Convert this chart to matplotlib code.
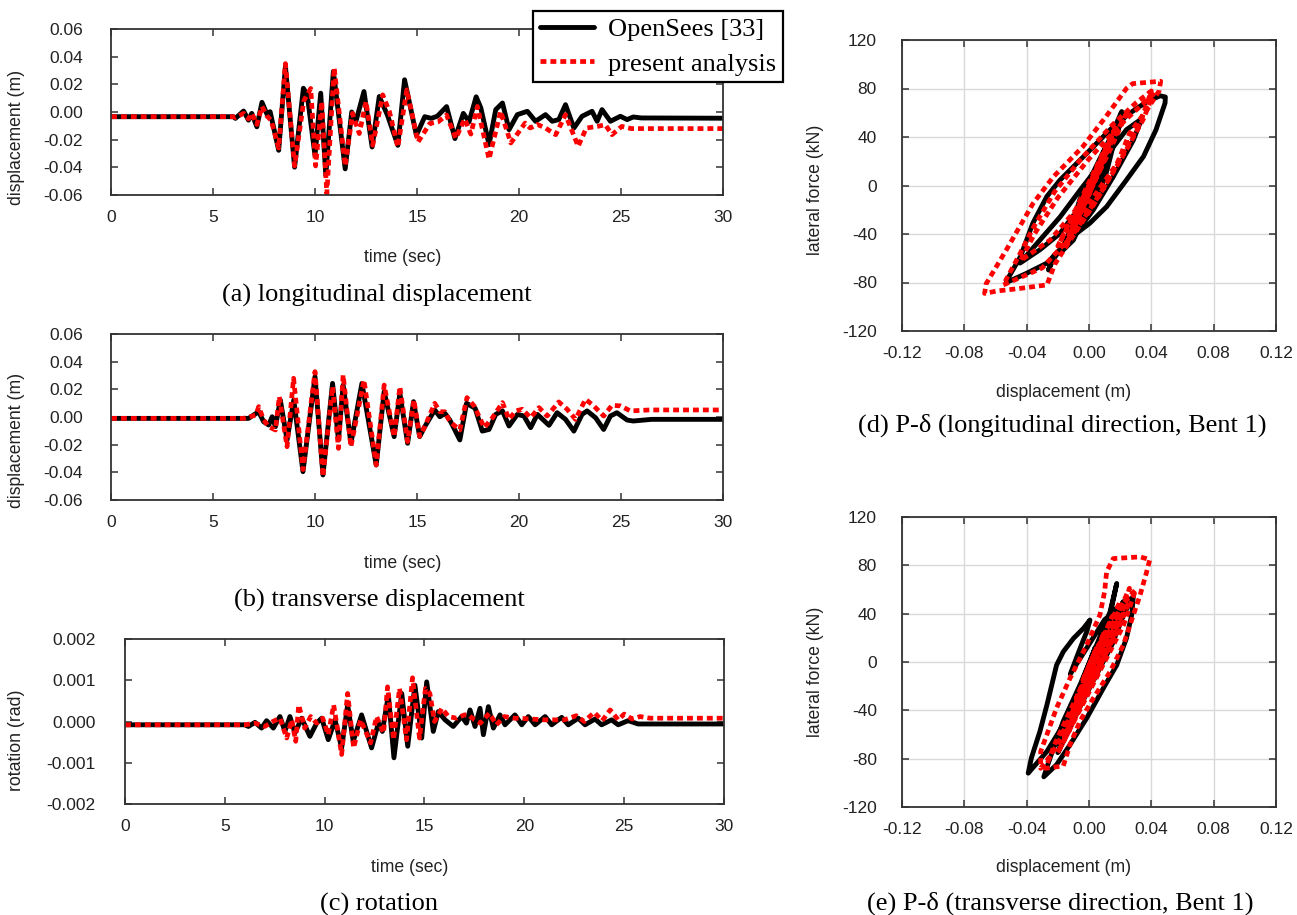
import numpy as np
import matplotlib
matplotlib.use("Agg")
import matplotlib.pyplot as plt
from matplotlib.lines import Line2D

# ---------------- data ----------------
# (a) longitudinal displacement: (time s, displacement m)
A_OPENSEES = [(0, -0.0034), (6.0, -0.0034), (6.1, -0.0046), (6.5, 0.0007), (6.74, -0.0059), (6.9, -0.0010),
              (7.15, -0.0107), (7.4, 0.0070), (7.65, -0.0017), (7.8, 0.0002), (8.22, -0.0277), (8.55, 0.0330),
              (9.0, -0.0399), (9.43, 0.0172), (9.62, 0.0124), (10.0, -0.0314), (10.28, 0.0136), (10.53, -0.0459),
              (10.9, 0.0294), (11.48, -0.0411), (11.8, 0.0), (12.0, -0.0071), (12.4, 0.0148), (12.8, -0.0253),
              (13.15, 0.0112), (13.55, -0.0022), (14.06, -0.0241), (14.39, 0.0233), (14.97, -0.0168),
              (15.38, -0.0034), (15.7, -0.0046), (16.0, -0.0030), (16.45, 0.0039), (16.86, -0.0192),
              (17.27, -0.0010), (17.55, -0.0071), (17.9, 0.0110), (18.13, 0.0029), (18.53, -0.0236),
              (18.86, 0.0017), (19.19, 0.0065), (19.51, -0.0128), (19.92, -0.0019), (20.41, 0.0005),
              (20.81, -0.0067), (21.3, -0.0019), (21.63, -0.0067), (21.95, -0.0055), (22.28, 0.0053),
              (22.69, -0.0116), (23.09, -0.0031), (23.58, 0.0005), (23.83, -0.0067), (24.07, 0.0017),
              (24.48, -0.0067), (24.97, -0.0031), (25.3, -0.0055), (25.6, -0.0036), (26.0, -0.0043), (30.0, -0.0045)]
A_PRESENT = [(0, -0.0034), (6.0, -0.0034), (6.1, -0.004), (6.5, -0.001), (6.74, -0.005), (6.9, -0.001),
             (7.15, -0.009), (7.4, 0.004), (7.65, -0.003), (7.85, -0.006), (8.22, -0.026), (8.55, 0.035),
             (9.0, -0.039), (9.45, 0.008), (9.79, 0.017), (10.03, -0.039), (10.33, 0.0075), (10.58, -0.059),
             (10.94, 0.032), (11.48, -0.039), (11.84, -0.001), (12.17, -0.0156), (12.5, 0.0075), (12.83, -0.024),
             (13.32, 0.0124), (13.65, 0.0002), (14.06, -0.0253), (14.5, 0.016), (15.05, -0.0217), (15.63, -0.0083),
             (16.04, -0.0071), (16.45, -0.0022), (16.9, -0.019), (17.34, -0.005), (17.64, -0.016), (17.96, 0.004),
             (18.53, -0.034), (19.1, 0.0005), (19.6, -0.0224), (20.3, -0.008), (20.55, -0.0116), (20.9, -0.009),
             (21.3, -0.0116), (21.8, -0.0164), (22.28, -0.0019), (22.9, -0.0248), (23.3, -0.0116), (23.85, -0.0104),
             (24.23, -0.0092), (24.56, -0.0164), (25.04, -0.0104), (25.5, -0.012), (30, -0.012)]

# (b) transverse displacement
B_OPENSEES = [(0, -0.001), (6.74, -0.001), (7.24, 0.0038), (7.48, -0.0034), (7.73, -0.0058), (7.9, 0.0002),
              (8.06, -0.007), (8.3, 0.0123), (8.63, -0.0166), (8.96, 0.0123), (9.41, -0.0395), (10.0, 0.0292),
              (10.39, -0.0419), (10.86, 0.0243), (11.15, -0.0166), (11.38, 0.0231), (11.76, -0.019), (12.3, 0.0243),
              (13.0, -0.0347), (13.39, 0.0183), (13.88, -0.0142), (14.16, 0.0171), (14.54, -0.019), (14.83, 0.0111),
              (15.13, -0.0142), (15.38, -0.007), (15.87, 0.0051), (16.12, 0.0002), (16.37, 0.0026), (16.61, -0.0022),
              (17.1, -0.0166), (17.43, 0.0099), (17.85, 0.0063), (18.2, -0.0102), (18.53, -0.009), (18.86, 0.0019),
              (19.19, 0.0044), (19.51, -0.0065), (19.92, 0.0019), (20.24, 0.0007), (20.57, -0.0077), (20.9, 0.0019),
              (21.47, -0.006), (21.87, 0.0031), (22.28, -0.0017), (22.69, -0.0102), (23.09, 0.0019), (23.34, 0.0044),
              (23.75, -0.0005), (24.15, -0.009), (24.48, 0.0007), (24.8, 0.0031), (25.3, -0.0022), (25.6, -0.0029),
              (26.5, -0.0017), (30, -0.0017)]
B_PRESENT = [(0, -0.001), (6.5, -0.001), (7.1, 0.0014), (7.24, 0.0075), (7.48, -0.002), (7.73, -0.007),
             (8.06, -0.0094), (8.25, 0.0147), (8.63, -0.0215), (8.95, 0.028), (9.41, -0.038), (10.0, 0.0328),
             (10.39, -0.043), (10.86, 0.022), (11.15, -0.0227), (11.38, 0.0303), (11.76, -0.0215), (12.4, 0.0267),
             (13.0, -0.0347), (13.39, 0.0231), (13.88, -0.0142), (14.16, 0.0219), (14.54, -0.0178), (14.85, 0.0123),
             (15.13, -0.014), (15.38, -0.007), (15.87, 0.0099), (16.12, 0.0038), (16.37, 0.0038), (16.61, -0.0034),
             (17.1, -0.0094), (17.45, 0.014), (17.8, 0.008), (18.3, -0.0077), (18.7, -0.0005), (19.19, 0.0104),
             (19.51, -0.0017), (19.84, 0.0044), (20.16, 0.0056), (20.57, -0.0005), (20.98, 0.0068), (21.38, 0.0007),
             (21.95, 0.0109), (22.36, 0.0056), (22.77, -0.0017), (23.26, 0.0128), (23.67, 0.008), (24.15, 0.0007),
             (24.56, 0.0085), (24.97, 0.008), (25.46, 0.0044), (26.4, 0.0051), (30, 0.0051)]

# (c) rotation (rad)
C_OPENSEES = [(0, -0.00008), (6.0, -0.00008), (6.18, -0.00012), (6.51, -0.00002), (6.84, -0.00016), (7.09, 0.00002),
              (7.43, -0.00016), (7.76, 0.00012), (8.01, -0.00024), (8.26, 0.00012), (8.51, -0.00028), (8.85, 0.00008),
              (9.26, -0.00036), (9.6, -0.00004), (9.85, 0.00008), (10.18, -0.00044), (10.52, 0.00004),
              (10.85, -0.00064), (11.15, 0.0004), (11.43, -0.00048), (11.85, 0.00016), (12.35, -0.00064),
              (12.69, -0.00004), (12.89, -0.00024), (13.19, 0.00064), (13.47, -0.00088), (13.86, 0.00068),
              (14.16, -0.0006), (14.52, 0.00088), (14.86, -0.0004), (15.11, 0.00096), (15.44, -0.00024),
              (15.69, 0.00024), (16.03, 0.00004), (16.44, -0.00012), (16.86, 0.00012), (17.1, -0.00004),
              (17.28, 0.00028), (17.53, -0.00012), (17.78, 0.00032), (17.95, -0.00032), (18.2, 0.00036),
              (18.45, -0.00016), (18.78, 0.00016), (19.03, -0.00008), (19.53, 0.00016), (19.87, -0.00008),
              (20.2, 0.00012), (20.54, -0.00008), (21.04, 0.00012), (21.37, -0.00008), (21.87, 0.0001),
              (22.2, -0.00008), (22.7, 0.00008), (23.04, -0.00008), (23.54, 0.00006), (23.87, -0.00008),
              (24.37, 0.00004), (24.7, -0.00008), (25.2, 0.00002), (25.7, -0.00006), (30, -0.00006)]
C_PRESENT = [(0, -0.00008), (6.0, -0.00008), (6.5, -0.00004), (7.0, -0.00012), (7.4, 0.0), (7.76, 0.00008),
             (8.1, -0.0004), (8.35, 0.00004), (8.55, -0.00048), (8.7, 0.0004), (9.0, -0.00016), (9.3, 0.00012),
             (9.6, -0.00004), (9.9, 0.00008), (10.18, -0.00032), (10.45, 0.0004), (10.85, -0.0008), (11.15, 0.00068),
             (11.45, -0.00064), (11.8, 0.00004), (12.3, -0.00052), (12.6, 0.00012), (12.95, -0.00028),
             (13.15, 0.00084), (13.45, -0.00044), (13.75, 0.0008), (14.1, -0.00044), (14.4, 0.00106),
             (14.75, -0.0004), (15.05, 0.0008), (15.27, 0.00068), (15.5, 0.0), (15.87, 0.00032), (16.2, 0.00012),
             (16.6, 0.00008), (17.0, 0.00016), (17.2, 0.00016), (17.5, 0.00004), (17.8, -0.00004), (18.25, 0.0002),
             (18.6, -0.00008), (19.0, 0.00012), (19.5, 0.00008), (20.0, 0.00007), (21.0, 0.00004), (22.0, 0.00004),
             (22.6, 0.00014), (23.0, 0.0), (23.5, 0.00022), (23.9, 0.00002), (24.3, 0.00028), (24.7, 0.00004),
             (25.0, 0.00018), (25.4, 0.00006), (25.8, 0.00012), (26.3, 0.00008), (30, 0.00008)]

# (d) P-delta, longitudinal: (displacement m, lateral force kN)
D_OPENSEES = [(0.0, -2), (0.004, 10), (-0.004, -12), (0.007, 18), (-0.006, -20), (0.010, 28), (-0.009, -28),
              (0.014, 38), (-0.012, -35), (0.021, 61), (0.0178, 46), (0.0113, 18), (0.0028, -1), (-0.0058, -17.5),
              (-0.0186, -39.5), (-0.0315, -53), (-0.0443, -64), (-0.0315, -45), (-0.0186, -26), (-0.0058, -4),
              (0.0092, 21), (0.024, 46), (0.0338, 55), (0.0285, 37.5), (0.0156, 7.3), (0.0028, -20), (-0.010, -42),
              (-0.027, -64), (-0.040, -72.4), (-0.053, -80), (-0.052, -76.6), (-0.044, -58.7), (-0.036, -31),
              (-0.027, -9), (-0.0186, 4.5), (-0.010, 15.5), (0.0028, 32), (0.0135, 46), (0.026, 59.5), (0.037, 69),
              (0.0456, 74), (0.049, 73), (0.0488, 68), (0.043, 46), (0.035, 24), (0.024, 4.5), (0.0113, -17.5),
              (0.0006, -31), (-0.008, -39.5), (-0.015, -48), (-0.023, -58.7), (-0.026, -69.7), (-0.023, -61),
              (-0.012, -42), (0.0, -15), (0.012, 20), (0.018, 45), (0.022, 55), (0.012, 30), (-0.008, -25),
              (-0.018, -55), (-0.010, -45), (0.004, -5), (0.018, 42), (0.010, 30), (-0.006, -12), (-0.015, -50),
              (-0.006, -35), (0.010, 5), (0.016, 35), (0.008, 22), (-0.006, -22), (0.004, -2), (0.012, 25),
              (0.004, 8), (-0.004, -12), (0.002, 0)]
D_PRESENT = [(0.0, -2), (0.005, 12), (-0.004, -12), (0.008, 22), (-0.006, -18), (0.012, 34), (-0.010, -28),
             (0.018, 50), (-0.02, -50), (0.025, 62), (0.012, 25), (-0.005, -15), (-0.025, -45), (-0.044, -62),
             (-0.035, -40), (-0.02, -10), (0.0, 22), (0.02, 50), (0.041, 75), (0.035, 55), (0.022, 25),
             (0.008, -5), (-0.01, -40), (-0.03, -68), (-0.055, -82), (-0.045, -58), (-0.035, -33), (-0.022, -5),
             (-0.005, 22), (0.015, 50), (0.030, 68), (0.040, 78), (0.033, 52), (0.020, 22), (0.005, -12),
             (-0.012, -45), (-0.022, -65), (-0.027, -82), (-0.045, -85), (-0.059, -87), (-0.067, -89),
             (-0.066, -81), (-0.053, -53), (-0.036, -15), (-0.023, 7), (-0.004, 32), (0.011, 57), (0.024, 80),
             (0.028, 84), (0.037, 85), (0.046, 86), (0.045, 78), (0.038, 64), (0.026, 43), (0.018, 18), (0.008, 0),
             (0.0, -15), (-0.010, -35), (-0.016, -52), (-0.008, -25), (0.006, 10), (0.014, 38), (0.004, 8),
             (-0.008, -30), (-0.014, -48), (-0.004, -18), (0.008, 15), (0.016, 45), (0.006, 18), (-0.006, -20),
             (-0.012, -40), (0.0, -8), (0.010, 25), (0.004, 10), (-0.004, -14), (0.002, 0)]

# (e) P-delta, transverse
E_OPENSEES = [(0.0, -3), (0.004, 12), (-0.004, -15), (0.008, 22), (-0.008, -28), (0.012, 32), (-0.012, -40),
              (0.018, 45), (-0.016, -55), (0.022, 50), (-0.020, -68), (0.0285, 55), (0.0274, 39), (0.024, 19.5),
              (0.0178, -2.5), (0.0092, -21.7), (-0.0015, -46.5), (-0.0122, -68.5), (-0.0208, -85), (-0.029, -95),
              (-0.025, -79.5), (-0.0165, -49), (-0.0058, -19), (0.0049, 14), (0.0135, 41.5), (0.0178, 65),
              (0.0135, 39), (0.0049, 5.8), (-0.0058, -24.5), (-0.0165, -52), (-0.027, -74), (-0.039, -92),
              (-0.037, -79.5), (-0.0315, -57.5), (-0.027, -35.5), (-0.0208, -2.5), (-0.0165, 8.5), (-0.010, 19.5),
              (-0.0036, 27.8), (0.0006, 34.7), (-0.0015, 25), (-0.0058, 11), (-0.012, -10), (0.010, 35),
              (0.026, 52), (0.015, 15), (-0.005, -35), (-0.020, -75), (-0.010, -45), (0.008, 10), (0.022, 45),
              (0.012, 20), (-0.004, -25), (-0.016, -62), (-0.006, -30), (0.010, 15), (0.018, 40), (0.006, 8),
              (-0.006, -25), (-0.012, -45), (0.0, -10), (0.012, 25), (0.002, 0)]
E_PRESENT = [(0.0, -3), (0.005, 12), (-0.004, -15), (0.010, 25), (-0.008, -30), (0.015, 38), (-0.012, -45),
             (0.020, 50), (-0.018, -62), (0.026, 61), (0.020, 35), (0.005, -10), (-0.012, -50), (-0.025, -78),
             (-0.031, -88), (-0.031, -74), (-0.027, -60), (-0.0208, -38), (-0.0122, -13.5), (-0.0015, 14),
             (0.007, 39), (0.010, 58), (0.0113, 74.6), (0.0156, 85.6), (0.0327, 87), (0.039, 84.8), (0.037, 74.6),
             (0.0327, 55), (0.0285, 39), (0.022, 14), (0.0135, -8), (0.0028, -30), (-0.0058, -49), (-0.0122, -68.5),
             (-0.0165, -86), (-0.028, -88), (-0.022, -68), (-0.012, -40), (0.005, 5), (0.020, 45), (0.030, 60),
             (0.022, 30), (0.008, -5), (-0.008, -45), (-0.020, -75), (-0.012, -55), (0.002, -15), (0.016, 25),
             (0.026, 50), (0.018, 25), (0.004, -10), (-0.010, -45), (-0.016, -62), (-0.006, -30), (0.008, 5),
             (0.020, 38), (0.010, 12), (-0.002, -18), (-0.008, -32), (0.004, 2), (0.012, 22), (0.002, 0)]

SERIES_LABELS = ["OpenSees [33]", "present analysis"]
TIME_TICKS = [0, 5, 10, 15, 20, 25, 30]
DISP_TICKS = [-0.06, -0.04, -0.02, 0.00, 0.02, 0.04, 0.06]
ROT_TICKS = [-0.002, -0.001, 0.000, 0.001, 0.002]
PD_XTICKS = [-0.12, -0.08, -0.04, 0.00, 0.04, 0.08, 0.12]
PD_YTICKS = [-120, -80, -40, 0, 40, 80, 120]
CAPTIONS = ["(a) longitudinal displacement", "(b) transverse displacement", "(c) rotation",
            "(d) P-\u03b4 (longitudinal direction, Bent 1)", "(e) P-\u03b4 (transverse direction, Bent 1)"]

# ---------------- figure ----------------
W, H = 1297, 915
fig = plt.figure(figsize=(W / 100, H / 100), dpi=100)
SANS = ["Liberation Sans", "DejaVu Sans"]
SERIF = ["Liberation Serif", "DejaVu Serif"]
plt.rcParams["font.family"] = SANS


def box(l, t, r, b):
    return [l / W, 1 - b / H, (r - l) / W, (b - t) / H]


def fx(x):
    return x / W


def fy(y):
    return 1 - y / H


BLACK_KW = dict(color="black", lw=3.5, solid_joinstyle="round", solid_capstyle="round")
RED_KW = dict(color="#ff0000", lw=3.4, linestyle=(0, (1.25, 0.85)))


def style(ax, ypad):
    for s in ax.spines.values():
        s.set_linewidth(1.3)
        s.set_color("#333333")
    ax.tick_params(direction="in", top=True, right=True, length=5, width=1.1, color="#333333",
                   labelsize=12.5, labelcolor="#222222")
    ax.tick_params(axis="y", pad=ypad)
    ax.tick_params(axis="x", pad=11)


def time_panel(rect, black, red, yticks, yfmt, ylim, ylabel, ylab_xy, xlab_xy, cap_xy, cap, ypad=20):
    ax = fig.add_axes(box(*rect))
    b = np.array(black)
    r = np.array(red)
    ax.plot(b[:, 0], b[:, 1], **BLACK_KW)
    ax.plot(r[:, 0], r[:, 1], **RED_KW)
    ax.set_xlim(0, 30)
    ax.set_ylim(*ylim)
    ax.set_xticks(TIME_TICKS)
    ax.set_xticklabels([str(t) for t in TIME_TICKS])
    ax.set_yticks(yticks)
    ax.set_yticklabels([yfmt.format(v) if abs(v) > 1e-12 else yfmt.format(0.0) for v in yticks])
    style(ax, ypad)
    fig.text(fx(ylab_xy[0]), fy(ylab_xy[1]), ylabel, rotation=90, ha="center", va="center",
             fontsize=12.7, color="#222222", family=SANS)
    fig.text(fx(xlab_xy[0]), fy(xlab_xy[1]), "time (sec)", ha="center", va="center",
             fontsize=12.7, color="#222222", family=SANS)
    fig.text(fx(cap_xy[0]), fy(cap_xy[1]), cap, ha="center", va="center", fontsize=19, family=SERIF)
    return ax


def pd_panel(rect, black, red, ylab_xy, xlab_xy, cap_xy, cap):
    ax = fig.add_axes(box(*rect))
    ax.grid(True, color="#d9d9d9", lw=1.0)
    ax.set_axisbelow(True)
    b = np.array(black)
    r = np.array(red)
    ax.plot(b[:, 0], b[:, 1], **BLACK_KW)
    ax.plot(r[:, 0], r[:, 1], **RED_KW)
    ax.set_xlim(-0.12, 0.12)
    ax.set_ylim(-120, 120)
    ax.set_xticks(PD_XTICKS)
    ax.set_xticklabels(["{:.2f}".format(v) if abs(v) > 1e-12 else "0.00" for v in PD_XTICKS])
    ax.set_yticks(PD_YTICKS)
    ax.set_yticklabels([str(v) for v in PD_YTICKS])
    style(ax, 18)
    fig.text(fx(ylab_xy[0]), fy(ylab_xy[1]), "lateral force (kN)", rotation=90, ha="center", va="center",
             fontsize=12.7, color="#222222", family=SANS)
    fig.text(fx(xlab_xy[0]), fy(xlab_xy[1]), "displacement (m)", ha="center", va="center",
             fontsize=12.7, color="#222222", family=SANS)
    fig.text(fx(cap_xy[0]), fy(cap_xy[1]), cap, ha="center", va="center", fontsize=19, family=SERIF)
    return ax


time_panel((111, 29, 723, 195), A_OPENSEES, A_PRESENT, DISP_TICKS, "{:.2f}", (-0.06, 0.06),
           "displacement (m)", (17, 137), (403, 258), (377, 295), CAPTIONS[0])
time_panel((111, 334, 723, 500), B_OPENSEES, B_PRESENT, DISP_TICKS, "{:.2f}", (-0.06, 0.06),
           "displacement (m)", (17, 440), (403, 563), (379, 600), CAPTIONS[1])
time_panel((125, 639, 724, 804), C_OPENSEES, C_PRESENT, ROT_TICKS, "{:.3f}", (-0.002, 0.002),
           "rotation (rad)", (17, 740), (410, 868), (379, 904), CAPTIONS[2], ypad=21)
pd_panel((902, 40, 1276, 331), D_OPENSEES, D_PRESENT, (815, 190), (1064, 392), (1062, 425), CAPTIONS[3])
pd_panel((902, 517, 1276, 807), E_OPENSEES, E_PRESENT, (815, 672), (1064, 868), (1060, 903), CAPTIONS[4])

handles = [Line2D([], [], **BLACK_KW), Line2D([], [], **RED_KW)]
leg = fig.legend(handles, SERIES_LABELS, loc="upper left", bbox_to_anchor=(fx(533), fy(11)),
                 bbox_transform=fig.transFigure, borderaxespad=0, frameon=True, fancybox=False,
                 prop={"family": SERIF, "size": 19}, handlelength=2.05, handletextpad=0.55,
                 borderpad=0.25, labelspacing=0.42)
leg.get_frame().set_edgecolor("black")
leg.get_frame().set_linewidth(1.6)
leg.get_frame().set_alpha(1)

fig.savefig("out.png", dpi=100)
